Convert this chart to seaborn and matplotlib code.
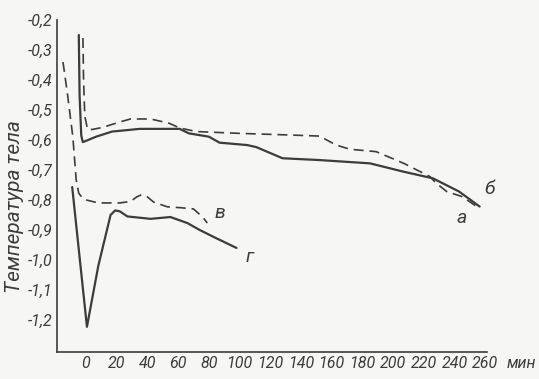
import seaborn as sns
import matplotlib.pyplot as plt
import pandas as pd

# curve "а" (dashed, upper)
a_t = [-2.0, -1.6, -0.8, 1.0, 4, 9, 14, 22, 29, 42, 54, 61, 72, 100, 130, 152, 163, 172, 189, 207, 224, 228, 235, 245, 254.5]
a_v = [-0.26, -0.40, -0.52, -0.565, -0.565, -0.56, -0.553, -0.54, -0.53, -0.53, -0.544, -0.56, -0.572, -0.578, -0.583, -0.587, -0.617, -0.631, -0.639, -0.678, -0.722, -0.744, -0.772, -0.789, -0.822]

# curve "б" (solid, upper)
b_t = [-4.7, -4.2, -3.1, -2.1, 0, 6.6, 17, 35, 61, 67, 80, 87, 105, 111, 128, 152, 185, 207, 226, 243, 256.4]
b_v = [-0.25, -0.45, -0.585, -0.607, -0.603, -0.589, -0.572, -0.563, -0.563, -0.578, -0.589, -0.609, -0.617, -0.624, -0.661, -0.667, -0.678, -0.706, -0.728, -0.772, -0.822]

# curve "в" (dashed, lower)
c_t = [-15, -12, -8.6, -6.4, -4.7, -2, 0.1, 8, 14, 22, 29, 33, 36, 40, 44, 53, 62, 70, 76, 79]
c_v = [-0.34, -0.45, -0.589, -0.733, -0.778, -0.795, -0.80, -0.81, -0.81, -0.81, -0.805, -0.79, -0.783, -0.79, -0.807, -0.823, -0.826, -0.83, -0.857, -0.877]

# curve "г" (solid, lower)
d_t = [-9, -4, 0.6, 8, 16, 19, 22, 27, 42, 55, 66, 74, 83, 98]
d_v = [-0.757, -1.0, -1.223, -1.02, -0.85, -0.835, -0.838, -0.855, -0.863, -0.857, -0.877, -0.90, -0.923, -0.96]

x_ticks = list(range(0, 261, 20))
y_ticks = [-0.2, -0.3, -0.4, -0.5, -0.6, -0.7, -0.8, -0.9, -1.0, -1.1, -1.2]

sns.set_style("white")
plt.rcParams['font.family'] = ['Roboto', 'DejaVu Sans']

ink = '#3c3c3c'
bg = '#f6f6f4'
fs = 11.5

fig = plt.figure(figsize=(5.39, 3.79), dpi=100, facecolor=bg)
ax = fig.add_axes([57 / 539, 1 - 352 / 379, 430 / 539, 332 / 379])
ax.set_facecolor(bg)

curves = [(a_t, a_v, '--'), (b_t, b_v, '-'), (c_t, c_v, '--'), (d_t, d_v, '-')]
for t, v, ls in curves:
    df = pd.DataFrame({'t': t, 'v': v})
    sns.lineplot(data=df, x='t', y='v', ax=ax, sort=False, estimator=None,
                 color=ink, linewidth=1.6 if ls == '-' else 1.2, linestyle=ls)
for line in ax.lines:
    if line.get_linestyle() == '--':
        line.set_dashes([6, 3.5])

ax.set_xlim(-18.9, 261.2)
ax.set_ylim(-1.307, -0.2)
ax.set_xticks(x_ticks)
ax.set_yticks(y_ticks)
ax.set_xticklabels([str(x) for x in x_ticks], fontstyle='italic', fontsize=fs, color=ink)
ax.set_yticklabels([f"{y:.1f}".replace('.', ',') for y in y_ticks], fontstyle='italic', fontsize=fs, color=ink)
ax.tick_params(axis='both', direction='in', length=4, width=1, color=ink, pad=3)
ax.set_xlabel('')
ax.set_ylabel('')
fig.text(15 / 539, 1 - 207 / 379, 'Температура тела', rotation=90, fontstyle='italic',
         fontsize=15, color=ink, ha='center', va='center')

for s in ['top', 'right']:
    ax.spines[s].set_visible(False)
for s in ['left', 'bottom']:
    ax.spines[s].set_color(ink)
    ax.spines[s].set_linewidth(1.2)

ax.text(1.045, -0.035, 'мин', transform=ax.transAxes, fontstyle='italic', fontsize=fs,
        color=ink, ha='left', va='center')
ax.text(263, -0.765, 'б', fontstyle='italic', fontsize=14, color=ink, ha='center', va='center')
ax.text(245, -0.86, 'а', fontstyle='italic', fontsize=14, color=ink, ha='center', va='center')
ax.text(87, -0.843, 'в', fontstyle='italic', fontsize=14, color=ink, ha='center', va='center')
ax.text(106.5, -0.99, 'г', fontstyle='italic', fontsize=14, color=ink, ha='center', va='center')

fig.savefig('out.png', dpi=100, facecolor=bg)
